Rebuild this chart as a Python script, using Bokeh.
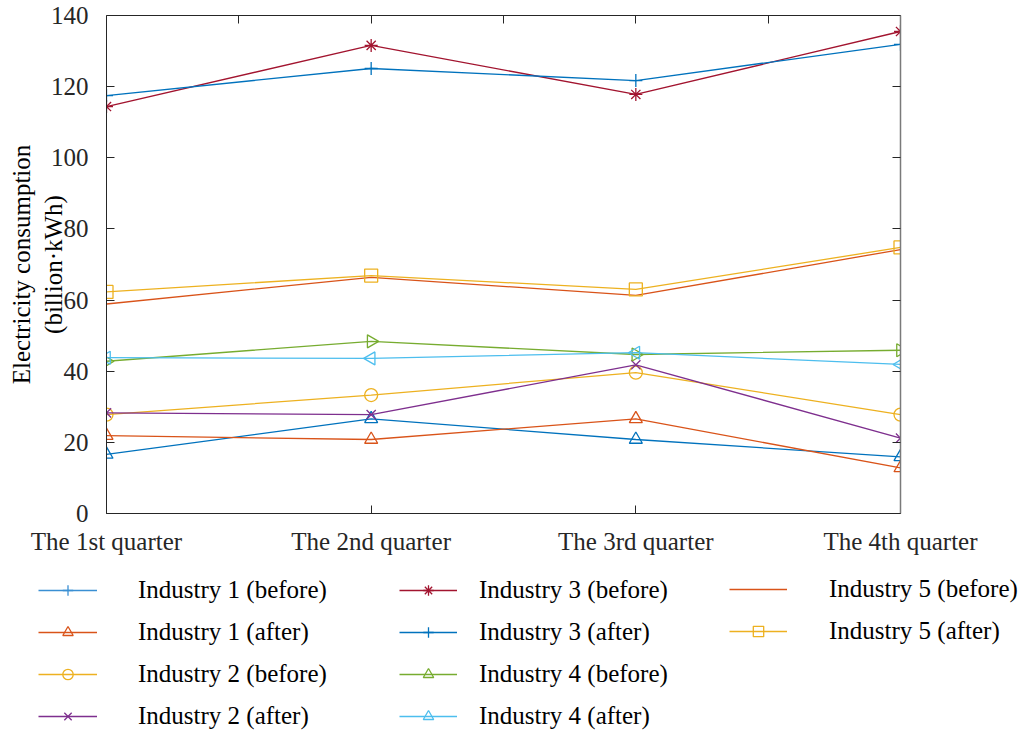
import numpy as np
from bokeh.plotting import figure
from bokeh.models import Range1d, FixedTicker, LinearAxis, Legend, LegendItem, ColumnDataSource
from bokeh.embed import file_html
from bokeh.resources import INLINE

# Quarterly electricity consumption (billion kWh) per industry
quarters = ["The 1st quarter", "The 2nd quarter", "The 3rd quarter", "The 4th quarter"]
quarter_pos = [1, 2, 3, 4]

ind1_before = [16.6, 26.6, 20.8, 15.9]
ind1_after = [21.9, 20.8, 26.6, 12.8]
ind2_before = [27.8, 33.3, 39.6, 27.8]
ind2_after = [28.3, 27.8, 41.8, 21.2]
ind3_before = [114.4, 131.6, 117.8, 135.5]
ind3_after = [117.5, 125.1, 121.7, 131.9]
ind4_before = [42.8, 48.4, 44.7, 45.9]
ind4_after = [43.8, 43.6, 45.2, 41.9]
ind5_before = [58.9, 66.4, 61.3, 74.2]
ind5_after = [62.3, 66.9, 63.0, 74.8]

y_ticks = [0, 20, 40, 60, 80, 100, 120, 140]
top_ticks = [1.5, 2, 2.5, 3, 3.5]

FONT = "Liberation Serif"
AXIS_COLOR = "#262626"
CHART_H = 560
LEGEND_H = 175

p = figure(width=1024, height=CHART_H, x_range=Range1d(1, 4), y_range=Range1d(0, 140),
           output_backend="svg", toolbar_location=None,
           min_border_left=106, min_border_right=124, min_border_top=15,
           min_border_bottom=CHART_H - 513)
p.grid.visible = False
p.outline_line_color = None
p.background_fill_color = "white"
p.border_fill_color = "white"

# bottom axis: quarter names
xa = p.xaxis[0]
xa.ticker = FixedTicker(ticks=quarter_pos)
xa.major_label_overrides = {i: q for i, q in zip(quarter_pos, quarters)}
# left axis: consumption
ya = p.yaxis[0]
ya.ticker = FixedTicker(ticks=y_ticks)
ya.axis_label = "Electricity consumption\n(billion\u00b7kWh)"
ya.axis_label_text_font = FONT
ya.axis_label_text_font_size = "25px"
ya.axis_label_text_font_style = "normal"
ya.axis_label_text_color = "#000000"
ya.axis_label_standoff = -19

for ax in (xa, ya):
    ax.major_tick_in = 8
    ax.major_tick_out = 0
    ax.minor_tick_in = 0
    ax.minor_tick_out = 0
    ax.axis_line_color = AXIS_COLOR
    ax.major_tick_line_color = AXIS_COLOR
    ax.major_label_text_font = FONT
    ax.major_label_text_font_size = "25px"
    ax.major_label_text_color = "#262626"
xa.major_label_standoff = 14
ya.major_label_standoff = 18

# box edges: ticks only, no labels
top = LinearAxis(ticker=FixedTicker(ticks=top_ticks),
                 major_label_overrides={t: "" for t in top_ticks}, major_label_standoff=0,
                 major_tick_in=8, major_tick_out=0, minor_tick_in=0, minor_tick_out=0,
                 axis_line_color=AXIS_COLOR, major_tick_line_color=AXIS_COLOR)
p.add_layout(top, "above")
right = LinearAxis(ticker=FixedTicker(ticks=y_ticks),
                   major_label_overrides={t: "" for t in y_ticks}, major_label_standoff=0,
                   major_tick_in=8, major_tick_out=0, minor_tick_in=0, minor_tick_out=0,
                   axis_line_color="#7a7a7a", axis_line_width=1.5, major_tick_line_color=AXIS_COLOR)
p.add_layout(right, "right")

# (label, values, colour, marker, angle)
series = [
    ("Industry 1 (before)", ind1_before, "#0072BD", "triangle", 0.0),
    ("Industry 1 (after)", ind1_after, "#D95319", "triangle", 0.0),
    ("Industry 2 (before)", ind2_before, "#EDB120", "circle", 0.0),
    ("Industry 2 (after)", ind2_after, "#7E2F8E", "x", 0.0),
    ("Industry 3 (before)", ind3_before, "#A2142F", "asterisk", 0.0),
    ("Industry 3 (after)", ind3_after, "#0072BD", "cross", 0.0),
    ("Industry 4 (before)", ind4_before, "#77AC30", "triangle", -np.pi / 2),
    ("Industry 4 (after)", ind4_after, "#4DBEEE", "triangle", np.pi / 2),
    ("Industry 5 (before)", ind5_before, "#D95319", None, 0.0),
    ("Industry 5 (after)", ind5_after, "#EDB120", "square", 0.0),
]

# legend key styles; Industry 1 (before) is keyed with a plus on a lighter blue line
key_style = {label: (color, marker, ang) for label, _, color, marker, ang in series}
key_style["Industry 1 (before)"] = ("#3A8FD3", "cross", 0.0)

for label, vals, color, marker, ang in series:
    src = ColumnDataSource(dict(x=quarter_pos, y=vals))
    p.line("x", "y", source=src, line_color=color, line_width=1.3)
    if marker is not None:
        p.scatter("x", "y", source=src, marker=marker, size=13, angle=ang,
                  line_color=color, fill_color=None, line_width=1.3)

# legend strip below the chart, a separate root whose frame spans the full width
lf = figure(width=1024, height=LEGEND_H, x_range=Range1d(0, 1), y_range=Range1d(0, 1),
            output_backend="svg", toolbar_location=None,
            x_axis_location=None, y_axis_location=None,
            min_border_left=0, min_border_right=0, min_border_top=0, min_border_bottom=0)
lf.grid.visible = False
lf.outline_line_color = None
lf.border_fill_color = "white"
lf.background_fill_color = "white"

# key renderers hold a single undefined point: only their legend swatches show
items = {}
for label, _, _, _, _ in series:
    color, marker, ang = key_style[label]
    key_src = ColumnDataSource(dict(x=[np.nan], y=[np.nan]))
    rends = [lf.line("x", "y", source=key_src, line_color=color, line_width=1.3)]
    if marker is not None:
        rends.append(lf.scatter("x", "y", source=key_src, marker=marker, size=10, angle=ang,
                                line_color=color, fill_color=None, line_width=1.3))
    items[label] = rends


def add_legend(labels, x_off, y_off, standoff, glyph_w):
    lg = Legend(items=[LegendItem(label=l, renderers=items[l]) for l in labels],
                location=(x_off, y_off), orientation="vertical",
                glyph_width=glyph_w, glyph_height=26, label_height=26,
                label_standoff=standoff, spacing=14, padding=0, margin=0,
                border_line_color=None, background_fill_alpha=0,
                label_text_font=FONT, label_text_font_size="25px",
                label_text_color="#000000")
    lf.add_layout(lg, "center")


add_legend(["Industry 1 (before)", "Industry 1 (after)", "Industry 2 (before)", "Industry 2 (after)"],
           38, 5, 41, 59)
add_legend(["Industry 3 (before)", "Industry 3 (after)", "Industry 4 (before)", "Industry 4 (after)"],
           399, 5, 22, 58)
add_legend(["Industry 5 (before)", "Industry 5 (after)"], 729, 90, 42, 58)

open("out.html", "w").write(file_html([p, lf], INLINE))
